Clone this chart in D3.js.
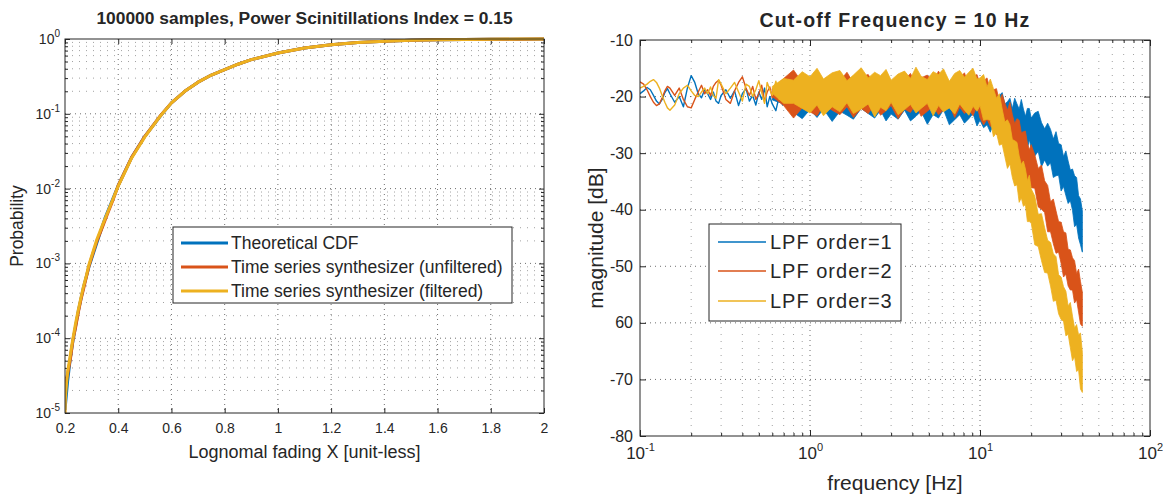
<!DOCTYPE html>
<html><head><meta charset="utf-8">
<script src="https://cdn.jsdelivr.net/npm/d3@7/dist/d3.min.js"></script>
<style>
body{margin:0;background:#fff;}
text{font-family:"Liberation Sans",Arial,sans-serif;fill:#262626;}
</style>
</head><body>
<svg id="c" width="1163" height="498"></svg>
<script>
// ---------------- LEFT PLOT DATA (CDF) ----------------
const leftTitle = "100000 samples, Power Scinitillations Index = 0.15";
const leftXLabel = "Lognomal fading X [unit-less]";
const leftYLabel = "Probability";
const leftXTicks = [0.2,0.4,0.6,0.8,1,1.2,1.4,1.6,1.8,2];
const leftXTickLabels = ["0.2","0.4","0.6","0.8","1","1.2","1.4","1.6","1.8","2"];
const leftYTicks = [1e-5,1e-4,1e-3,1e-2,1e-1,1];
const leftSeriesNames = ["Theoretical CDF","Time series synthesizer (unfiltered)","Time series synthesizer (filtered)"];

const theoX = [0.20,0.21,0.22,0.23,0.25,0.27,0.29,0.32,0.35,0.40,0.45,0.50,0.56,0.60,0.65,0.70,0.75,0.80,0.85,0.90,1.00,1.10,1.20,1.30,1.40,1.50,1.60,1.70,1.80,1.90,2.00];
const theoP = [1.1e-5,2.7e-5,5.4e-5,9.3e-5,2.3e-4,4.9e-4,9e-4,1.9e-3,4e-3,1.1e-2,2.6e-2,5e-2,9.5e-2,0.14,0.2,0.265,0.33,0.39,0.46,0.53,0.65,0.76,0.84,0.895,0.935,0.96,0.977,0.987,0.993,0.996,0.998];

const unfiltX = [0.199,0.2,0.203,0.207,0.21,0.215,0.22,0.225,0.23,0.24,0.25,0.26,0.27,0.28,0.29,0.3,0.32,0.34,0.36,0.38,0.4,0.45,0.5,0.56,0.6,0.65,0.7,0.75,0.8,0.85,0.9,1.0,1.1,1.2,1.3,1.4,1.5,1.6,1.7,1.8,1.9,2.0];
const unfiltP = [1e-5,2e-5,2.3e-5,3e-5,3.3e-5,4.2e-5,5.2e-5,7e-5,9.5e-5,1.4e-4,2.2e-4,3.3e-4,4.6e-4,6.5e-4,9.2e-4,1.2e-3,2.0e-3,3.0e-3,4.6e-3,7.0e-3,1.1e-2,2.6e-2,5.0e-2,9.6e-2,0.14,0.2,0.265,0.33,0.39,0.46,0.53,0.65,0.76,0.84,0.895,0.935,0.96,0.977,0.987,0.993,0.996,0.998];

const filtX = [0.2,0.201,0.204,0.207,0.21,0.215,0.22,0.225,0.23,0.24,0.25,0.26,0.27,0.28,0.29,0.3,0.32,0.34,0.36,0.38,0.4,0.45,0.5,0.56,0.6,0.65,0.7,0.75,0.8,0.85,0.9,1.0,1.1,1.2,1.3,1.4,1.5,1.6,1.7,1.8,1.9,2.0];
const filtP = [1e-5,1.5e-5,2.1e-5,2.8e-5,3.6e-5,4.6e-5,6e-5,7.8e-5,1.0e-4,1.6e-4,2.4e-4,3.5e-4,5.0e-4,6.8e-4,9.6e-4,1.25e-3,2.1e-3,3.2e-3,4.8e-3,7.2e-3,1.08e-2,2.55e-2,4.9e-2,9.5e-2,0.14,0.2,0.265,0.33,0.39,0.46,0.53,0.65,0.76,0.84,0.895,0.935,0.96,0.977,0.988,0.994,0.997,1.0];

// ---------------- RIGHT PLOT DATA (spectra) ----------------
const rightTitle = "Cut-off Frequency = 10 Hz";
const rightXLabel = "frequency [Hz]";
const rightYLabel = "magnitude [dB]";
const rightYTicks = [-80,-70,-60,-50,-40,-30,-20,-10];
const rightYTickLabels = ["-80","-70","60","-50","-40","-30","-20","-10"];
const rightXTicks = [0.1,1,10,100];
const rightSeriesNames = ["LPF order=1","LPF order=2","LPF order=3"];

// low-frequency part (thin wiggly lines)
const lowFreq = [0.1,0.105,0.11,0.115,0.12,0.125,0.13,0.135,0.14,0.145,0.15,0.16,0.17,0.18,0.19,0.2,0.21,0.22,0.23,0.24,0.25,0.26,0.27,0.28,0.29,0.3,0.32,0.34,0.36,0.38,0.4,0.42,0.44,0.46,0.48,0.5,0.52,0.54,0.56,0.58,0.6,0.63,0.66,0.69,0.72,0.75,0.78,0.8];
const order1Low = [-19.5,-19,-18.4,-18.8,-19.8,-20.8,-21.3,-20.5,-19.3,-18.6,-19.5,-21,-20,-21.8,-18.5,-16.3,-17.5,-19.5,-20.2,-18.8,-19.5,-20.5,-19.2,-20.8,-21.2,-19.8,-18.8,-20.3,-19,-21.6,-19.5,-18.6,-20.8,-19.8,-21.5,-19.2,-20.5,-18.5,-21.8,-20,-21.3,-22.5,-19.8,-21.5,-20.3,-22.3,-19.5,-21.5];
const order2Low = [-17.4,-17.8,-18.8,-20,-21,-21.6,-21.3,-20.2,-19,-18.2,-18.5,-19.8,-18.5,-20.5,-21.8,-22,-20.5,-19.2,-18,-19.5,-18.8,-19.8,-18.2,-17.5,-17.1,-18,-20.5,-21.2,-19,-17.5,-16.5,-18.5,-19.8,-18.2,-20.5,-19.5,-18,-20.8,-19.2,-18.3,-20.2,-17.6,-19.5,-18.5,-20.8,-18.8,-17.5,-19.8];
const order3Low = [-18.5,-18.2,-17.8,-17.3,-17,-17.5,-18.5,-19.8,-21,-22,-22.4,-21.5,-19.5,-18.5,-18,-19,-19.8,-20,-19.2,-18.5,-19.5,-18.3,-19.8,-20.3,-17,-17.8,-19.5,-18.5,-17.5,-19.2,-20.8,-17.8,-18.2,-20,-18.8,-17.2,-19.3,-21.2,-17.5,-18.8,-19.8,-17.3,-20.5,-18,-19.5,-17,-20.2,-18];

// dense noisy part: upper and lower envelope of each spectrum (dB)
const bandFreq = [0.6,0.7,0.8,0.9,1.0,1.1,1.2,1.35,1.5,1.65,1.8,2.0,2.2,2.4,2.6,2.8,3.0,3.3,3.6,3.9,4.2,4.5,4.9,5.3,5.7,6.1,6.6,7.1,7.6,8.1,8.6,9.1,9.6,10,10.5,11,11.5,12,12.5,13,13.5,14,14.5,15,15.5,16,16.5,17,17.5,18,18.5,19,19.5,20,21,22,23,24,25,26,27,28,29,30,31,32,33,34,35,36,37,38,39,40];
const order1Hi = [-19.4,-18.9,-16.8,-18.0,-19.2,-17.4,-18.0,-16.5,-18.7,-17.8,-17.2,-19.0,-17.5,-18.4,-16.9,-18.8,-18.1,-17.7,-19.5,-18.5,-17.2,-19.0,-18.0,-18.6,-17.5,-19.4,-18.8,-18.3,-19.6,-17.6,-19.2,-19.8,-18.4,-19.1,-18.3,-20.7,-19.5,-19.2,-20.6,-19.8,-19.3,-21.3,-20.9,-20.3,-22.1,-20.3,-21.3,-22.2,-20.5,-22.2,-23.5,-22.1,-22.1,-23.8,-22.9,-22.6,-24.6,-25.7,-24.7,-25.8,-27.5,-26.2,-28.3,-28.5,-30.6,-29.6,-31.4,-33.0,-32.8,-34.0,-34.3,-37.5,-38.1,-40.2];
const order1Lo = [-20.6,-21.3,-22.8,-23.9,-22.3,-23.7,-22.2,-24.4,-22.6,-23.3,-24.0,-22.1,-23.0,-23.8,-22.4,-24.3,-23.1,-24.0,-22.4,-24.3,-23.5,-22.6,-24.9,-23.2,-23.8,-22.3,-25.0,-24.1,-23.2,-24.7,-23.9,-23.0,-25.2,-24.2,-25.5,-25.0,-26.3,-24.7,-26.0,-27.0,-25.6,-26.6,-25.2,-27.4,-26.8,-26.2,-28.4,-26.9,-28.2,-27.0,-28.2,-29.3,-27.6,-29.1,-30.5,-29.7,-32.4,-31.2,-32.3,-31.7,-34.3,-34.0,-33.9,-36.7,-35.9,-37.5,-38.9,-38.4,-40.1,-43.0,-42.6,-45.0,-46.2,-47.5];
const order2Hi = [-18.6,-16.8,-15.3,-17.5,-16.6,-16.0,-17.8,-16.3,-17.2,-15.7,-17.6,-16.5,-16.1,-17.9,-16.9,-15.6,-17.4,-16.4,-17.0,-15.9,-17.8,-16.7,-16.2,-17.5,-15.5,-17.1,-17.7,-16.3,-16.8,-15.8,-18.0,-16.6,-16.1,-17.8,-17.2,-16.7,-19.0,-18.8,-18.6,-20.9,-19.6,-21.1,-22.4,-21.0,-23.2,-24.8,-23.9,-24.2,-26.4,-26.2,-26.1,-28.2,-29.4,-28.5,-30.3,-32.7,-32.1,-34.9,-35.7,-38.6,-38.1,-40.2,-42.1,-42.2,-43.9,-44.1,-47.0,-47.1,-48.5,-49.0,-51.3,-50.5,-52.7,-54.6];
const order2Lo = [-20.0,-21.6,-23.8,-22.0,-22.7,-23.4,-21.5,-22.4,-23.2,-21.8,-23.7,-22.1,-23.0,-21.4,-23.3,-22.5,-21.6,-23.9,-22.2,-22.8,-21.3,-23.5,-22.6,-21.7,-23.2,-22.4,-21.5,-23.7,-21.9,-23.0,-22.3,-23.4,-21.6,-23.8,-25.0,-24.0,-25.3,-24.1,-26.7,-26.6,-26.5,-29.2,-28.1,-29.7,-29.0,-30.5,-32.1,-30.7,-32.7,-33.8,-33.2,-36.0,-34.9,-36.1,-36.2,-39.5,-39.9,-40.5,-43.9,-43.9,-46.0,-47.7,-47.5,-49.5,-51.9,-51.4,-53.5,-54.2,-54.2,-56.5,-55.9,-58.1,-60.2,-60.6];
const order3Hi = [-18.2,-16.8,-17.1,-15.6,-16.5,-15.0,-16.9,-15.8,-15.4,-17.2,-16.2,-14.9,-16.7,-15.7,-16.3,-15.2,-17.1,-16.0,-15.5,-16.8,-14.8,-16.4,-17.0,-15.6,-16.1,-15.1,-17.3,-15.9,-15.4,-16.6,-15.7,-15.0,-16.9,-16.7,-16.1,-18.3,-16.9,-18.6,-20.3,-19.5,-22.2,-24.5,-24.1,-25.0,-27.6,-27.8,-28.1,-30.5,-32.0,-31.4,-32.8,-34.9,-33.9,-36.3,-37.6,-40.8,-40.7,-43.2,-45.4,-45.8,-47.8,-48.3,-51.5,-51.9,-53.6,-54.4,-57.0,-56.4,-58.8,-60.9,-60.3,-62.1,-61.8,-65.2];
const order3Lo = [-19.4,-21.2,-21.2,-22.1,-22.9,-21.5,-23.4,-21.8,-22.7,-21.1,-23.0,-22.2,-21.3,-23.6,-21.9,-22.5,-21.0,-23.2,-22.3,-21.4,-22.9,-22.1,-21.2,-23.4,-21.6,-22.7,-22.0,-23.1,-21.3,-22.4,-23.3,-21.7,-22.6,-21.6,-24.2,-24.0,-24.2,-27.1,-26.4,-28.6,-28.4,-30.6,-32.7,-31.9,-34.3,-35.8,-35.6,-38.7,-37.9,-39.4,-39.1,-42.1,-42.1,-42.3,-46.2,-46.5,-49.0,-51.1,-51.2,-53.5,-56.2,-56.0,-58.4,-59.4,-59.7,-62.3,-62.0,-64.4,-66.7,-66.0,-68.6,-68.3,-71.7,-72.3];

// ---------------- STYLE ----------------
const COLORS = ["#0072BD","#D95319","#EDB120"];
const AXC = "#262626";

const svg = d3.select("#c");

function pow10Label(sel, size, supSize, supDy) {
  sel.each(function(d){
    const t = d3.select(this);
    t.text(null);
    t.append("tspan").attr("font-size", size).text("10");
    t.append("tspan").attr("font-size", supSize).attr("dy", supDy).text(String(Math.round(Math.log10(d))));
  });
}
function gridMajor(sel){
  sel.attr("stroke","#333").attr("stroke-width",1).attr("stroke-dasharray","1,4").attr("opacity",0.7);
}
function gridMinor(sel){
  sel.attr("stroke","#333").attr("stroke-width",1).attr("stroke-dasharray","1,6").attr("opacity",0.45);
}
function styleAxis(g){
  g.select(".domain").remove();
  g.selectAll(".tick line").attr("stroke",AXC);
  g.selectAll(".tick text").attr("fill",AXC);
}

// ================= LEFT PLOT =================
const L = {x0:65, x1:544, y0:39, y1:413};
const lx = d3.scaleLinear().domain([0.2,2]).range([L.x0,L.x1]);
const ly = d3.scaleLog().domain([1e-5,1]).range([L.y1,L.y0]);

svg.append("clipPath").attr("id","clipL").append("rect")
  .attr("x",L.x0).attr("y",L.y0-3).attr("width",L.x1-L.x0).attr("height",L.y1-L.y0+6);

const lgrid = svg.append("g");
leftXTicks.filter(v=>v>0.2 && v<2).forEach(v=>{
  lgrid.append("line").attr("x1",lx(v)).attr("x2",lx(v)).attr("y1",L.y0).attr("y2",L.y1).call(gridMajor);
});
const lMinorY = [];
for (let e=-5;e<0;e++) for (let m=1;m<10;m++){ const v=m*Math.pow(10,e); if (v>1e-5 && v<1) lMinorY.push(v); }
const lMinorTicks = lMinorY.filter(v=>Math.abs(Math.log10(v)-Math.round(Math.log10(v)))>1e-6);
lMinorY.forEach(v=>{
  const major = lMinorTicks.indexOf(v) < 0;
  lgrid.append("line").attr("x1",L.x0).attr("x2",L.x1).attr("y1",ly(v)).attr("y2",ly(v)).call(major?gridMajor:gridMinor);
});

svg.append("g").attr("transform",`translate(0,${L.y1})`)
  .call(d3.axisBottom(lx).tickValues(leftXTicks).tickFormat((d,i)=>leftXTickLabels[i]).tickSizeInner(-5).tickSizeOuter(0).tickPadding(10))
  .call(styleAxis).call(g=>g.selectAll("text").attr("font-size",14).attr("font-family","Liberation Sans, Arial"));
svg.append("g").attr("transform",`translate(0,${L.y0})`)
  .call(d3.axisTop(lx).tickValues(leftXTicks).tickFormat("").tickSizeInner(-5).tickSizeOuter(0)).call(styleAxis);
svg.append("g").attr("transform",`translate(${L.x0},0)`)
  .call(d3.axisLeft(ly).tickValues(leftYTicks).tickSizeInner(-5).tickSizeOuter(0).tickPadding(5))
  .call(styleAxis).call(g=>g.selectAll("text").attr("dy","0.45em").call(pow10Label,14,10,-7));
svg.append("g").attr("transform",`translate(${L.x0},0)`)
  .call(d3.axisLeft(ly).tickValues(lMinorTicks).tickFormat("").tickSizeInner(-3).tickSizeOuter(0)).call(styleAxis);
svg.append("g").attr("transform",`translate(${L.x1},0)`)
  .call(d3.axisRight(ly).tickValues(leftYTicks).tickFormat("").tickSizeInner(-5).tickSizeOuter(0)).call(styleAxis);
svg.append("g").attr("transform",`translate(${L.x1},0)`)
  .call(d3.axisRight(ly).tickValues(lMinorTicks).tickFormat("").tickSizeInner(-3).tickSizeOuter(0)).call(styleAxis);

const lline = d3.line().x(d=>lx(d[0])).y(d=>ly(d[1]));
const leftSeries = [d3.zip(theoX,theoP), d3.zip(unfiltX,unfiltP), d3.zip(filtX,filtP)];
const lcurves = svg.append("g").attr("clip-path","url(#clipL)");
leftSeries.forEach((s,i)=>{
  lcurves.append("path").datum(s).attr("d",lline).attr("fill","none")
    .attr("stroke",COLORS[i]).attr("stroke-width",3).attr("stroke-linejoin","round");
});

svg.append("rect").attr("x",L.x0).attr("y",L.y0).attr("width",L.x1-L.x0).attr("height",L.y1-L.y0)
  .attr("fill","none").attr("stroke",AXC).attr("stroke-width",1);

svg.append("text").attr("x",(L.x0+L.x1)/2).attr("y",24).attr("text-anchor","middle")
  .attr("font-size",17.4).attr("font-weight","bold").attr("fill","#000").text(leftTitle);
svg.append("text").attr("x",(L.x0+L.x1)/2).attr("y",458).attr("text-anchor","middle")
  .attr("font-size",18).text(leftXLabel);
svg.append("text").attr("transform",`translate(23,${(L.y0+L.y1)/2}) rotate(-90)`).attr("text-anchor","middle")
  .attr("font-size",17.5).text(leftYLabel);

const lleg = svg.append("g");
lleg.append("rect").attr("x",173).attr("y",227).attr("width",339).attr("height",76)
  .attr("fill","#fff").attr("stroke",AXC).attr("stroke-width",1);
const llegRows = [243,267,291];
leftSeriesNames.forEach((n,i)=>{
  lleg.append("line").attr("x1",181).attr("x2",228).attr("y1",llegRows[i]).attr("y2",llegRows[i])
    .attr("stroke",COLORS[i]).attr("stroke-width",3);
  lleg.append("text").attr("x",231).attr("y",llegRows[i]+6).attr("font-size",17.5).attr("fill","#000").text(n);
});

// ================= RIGHT PLOT =================
const R = {x0:640, x1:1150, y0:40, y1:436};
const rx = d3.scaleLog().domain([0.1,100]).range([R.x0,R.x1]);
const ry = d3.scaleLinear().domain([-80,-10]).range([R.y1,R.y0]);

svg.append("clipPath").attr("id","clipR").append("rect")
  .attr("x",R.x0).attr("y",R.y0).attr("width",R.x1-R.x0).attr("height",R.y1-R.y0);

const rMinorX = [];
for (let e=-1;e<2;e++) for (let m=2;m<10;m++) rMinorX.push(m*Math.pow(10,e));
const rgrid = svg.append("g");
[1,10].forEach(v=>{
  rgrid.append("line").attr("x1",rx(v)).attr("x2",rx(v)).attr("y1",R.y0).attr("y2",R.y1).call(gridMajor);
});
rMinorX.forEach(v=>{
  rgrid.append("line").attr("x1",rx(v)).attr("x2",rx(v)).attr("y1",R.y0).attr("y2",R.y1).call(gridMinor);
});
rightYTicks.filter(v=>v>-80 && v<-10).forEach(v=>{
  rgrid.append("line").attr("x1",R.x0).attr("x2",R.x1).attr("y1",ry(v)).attr("y2",ry(v)).call(gridMajor);
});

svg.append("g").attr("transform",`translate(0,${R.y1})`)
  .call(d3.axisBottom(rx).tickValues(rightXTicks).tickSizeInner(-6).tickSizeOuter(0).tickPadding(16))
  .call(styleAxis).call(g=>g.selectAll("text").call(pow10Label,17,11,-8));
svg.append("g").attr("transform",`translate(0,${R.y1})`)
  .call(d3.axisBottom(rx).tickValues(rMinorX).tickFormat("").tickSizeInner(-3).tickSizeOuter(0)).call(styleAxis);
svg.append("g").attr("transform",`translate(0,${R.y0})`)
  .call(d3.axisTop(rx).tickValues(rightXTicks).tickFormat("").tickSizeInner(-6).tickSizeOuter(0)).call(styleAxis);
svg.append("g").attr("transform",`translate(0,${R.y0})`)
  .call(d3.axisTop(rx).tickValues(rMinorX).tickFormat("").tickSizeInner(-3).tickSizeOuter(0)).call(styleAxis);
svg.append("g").attr("transform",`translate(${R.x0},0)`)
  .call(d3.axisLeft(ry).tickValues(rightYTicks).tickFormat((d,i)=>rightYTickLabels[i]).tickSizeInner(-6).tickSizeOuter(0).tickPadding(7))
  .call(styleAxis).call(g=>g.selectAll("text").attr("font-size",16));
svg.append("g").attr("transform",`translate(${R.x1},0)`)
  .call(d3.axisRight(ry).tickValues(rightYTicks).tickFormat("").tickSizeInner(-6).tickSizeOuter(0)).call(styleAxis);

const lowSeries = [order1Low, order2Low, order3Low];
const bandHi = [order1Hi, order2Hi, order3Hi];
const bandLo = [order1Lo, order2Lo, order3Lo];
const rline = d3.line().x(d=>rx(d[0])).y(d=>ry(d[1]));
const rarea = d3.area().x(d=>rx(d[0])).y0(d=>ry(d[1])).y1(d=>ry(d[2]));
const rcurves = svg.append("g").attr("clip-path","url(#clipR)");
[0,1,2].forEach(i=>{
  rcurves.append("path").datum(d3.zip(lowFreq, lowSeries[i])).attr("d",rline)
    .attr("fill","none").attr("stroke",COLORS[i]).attr("stroke-width",1.4).attr("stroke-linejoin","round");
  rcurves.append("path").datum(d3.zip(bandFreq, bandLo[i], bandHi[i])).attr("d",rarea)
    .attr("fill",COLORS[i]).attr("stroke",COLORS[i]).attr("stroke-width",0.8).attr("stroke-linejoin","miter");
});

svg.append("rect").attr("x",R.x0).attr("y",R.y0).attr("width",R.x1-R.x0).attr("height",R.y1-R.y0)
  .attr("fill","none").attr("stroke",AXC).attr("stroke-width",1);

svg.append("text").attr("x",(R.x0+R.x1)/2).attr("y",27).attr("text-anchor","middle")
  .attr("font-size",19.5).attr("font-weight","bold").attr("letter-spacing",1.2).attr("fill","#000").text(rightTitle);
svg.append("text").attr("x",(R.x0+R.x1)/2).attr("y",490).attr("text-anchor","middle")
  .attr("font-size",21).text(rightXLabel);
svg.append("text").attr("transform",`translate(603,${(R.y0+R.y1)/2}) rotate(-90)`).attr("text-anchor","middle")
  .attr("font-size",21).text(rightYLabel);

const rleg = svg.append("g");
rleg.append("rect").attr("x",709).attr("y",224).attr("width",192).attr("height",97)
  .attr("fill","#fff").attr("stroke",AXC).attr("stroke-width",1);
const rlegRows = [242,271,301];
rightSeriesNames.forEach((n,i)=>{
  rleg.append("line").attr("x1",718).attr("x2",766).attr("y1",rlegRows[i]).attr("y2",rlegRows[i])
    .attr("stroke",COLORS[i]).attr("stroke-width",1.3);
  rleg.append("text").attr("x",770).attr("y",rlegRows[i]+7).attr("font-size",20).attr("letter-spacing",1)
    .attr("fill","#000").text(n);
});
</script>
</body></html>
